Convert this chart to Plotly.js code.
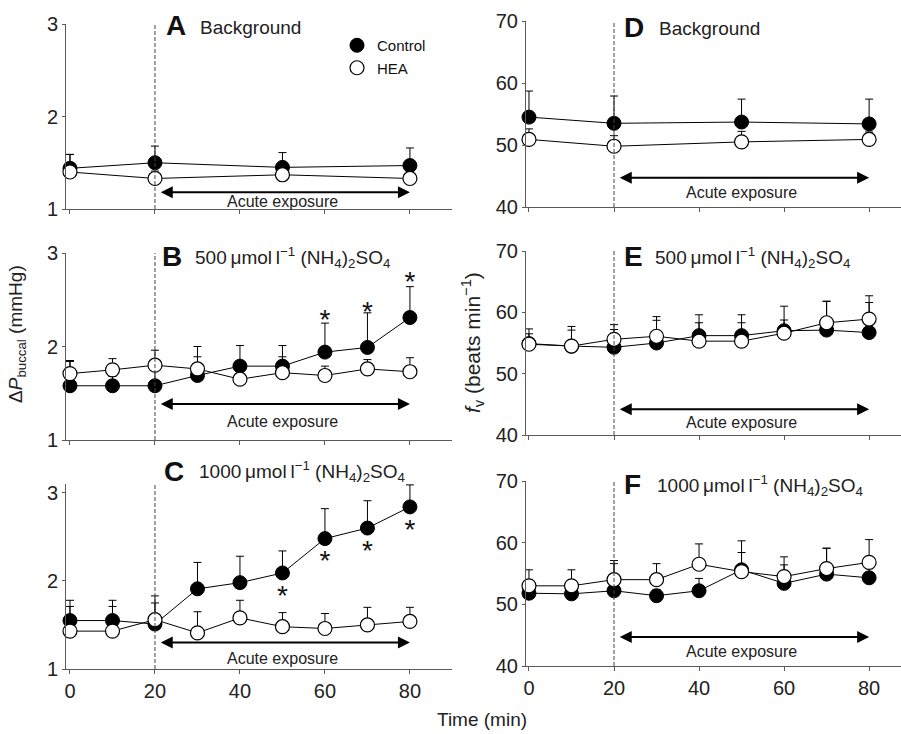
<!DOCTYPE html>
<html>
<head>
<meta charset="utf-8">
<script src="https://cdn.plot.ly/plotly-3.0.1.min.js"></script>
<style>html,body{margin:0;padding:0;background:#fff;}#chart{width:901px;height:734px;}</style>
</head>
<body>
<div id="chart"></div>
<script>
// ---- Data ----
const timeBackground = [0, 20, 50, 80];
const timeExposure = [0, 10, 20, 30, 40, 50, 60, 70, 80];

// Panel A: ΔPbuccal background
const aControl = [1.44, 1.50, 1.45, 1.47];
const aControlErr = [0.15, 0.18, 0.16, 0.19];
const aHEA = [1.40, 1.33, 1.37, 1.33];
const aHEAErr = [0.19, 0.08, 0.06, 0.06];

// Panel B: ΔPbuccal 500 µmol/l
const bControl = [1.58, 1.58, 1.58, 1.69, 1.79, 1.79, 1.94, 1.99, 2.31];
const bControlErr = [0.27, 0.10, 0.20, 0.20, 0.22, 0.22, 0.31, 0.37, 0.33];
const bHEA = [1.71, 1.75, 1.80, 1.76, 1.65, 1.72, 1.69, 1.76, 1.73];
const bHEAErr = [0.13, 0.12, 0.16, 0.24, 0.10, 0.17, 0.10, 0.10, 0.15];
const bStarTimes = [60, 70, 80];
const bStarY = [2.26, 2.35, 2.67];

// Panel C: ΔPbuccal 1000 µmol/l
const cControl = [1.55, 1.55, 1.51, 1.91, 1.98, 2.09, 2.48, 2.60, 2.84];
const cControlErr = [0.23, 0.23, 0.32, 0.30, 0.30, 0.25, 0.34, 0.31, 0.25];
const cHEA = [1.43, 1.43, 1.56, 1.41, 1.58, 1.48, 1.46, 1.50, 1.54];
const cHEAErr = [0.28, 0.28, 0.19, 0.24, 0.20, 0.16, 0.17, 0.20, 0.16];
const cStarTimes = [50, 60, 70, 80];
const cStarY = [1.81, 2.20, 2.32, 2.56];

// Panel D: fV background
const dControl = [54.5, 53.5, 53.7, 53.4];
const dControlErr = [4.2, 4.4, 3.7, 4.0];
const dHEA = [50.9, 49.8, 50.5, 50.9];
const dHEAErr = [1.7, 1.7, 1.7, 1.2];

// Panel E: fV 500 µmol/l
const eControl = [54.9, 54.5, 54.3, 55.0, 56.2, 56.2, 57.0, 57.1, 56.7];
const eControlErr = [2.4, 3.2, 2.9, 4.3, 3.4, 3.4, 4.0, 4.7, 4.9];
const eHEA = [54.8, 54.5, 55.6, 56.1, 55.3, 55.3, 56.6, 58.3, 58.9];
const eHEAErr = [1.7, 2.6, 2.4, 2.6, 3.0, 3.0, 2.15, 3.5, 3.8];

// Panel F: fV 1000 µmol/l
const fControl = [51.8, 51.7, 52.2, 51.4, 52.2, 55.6, 53.4, 54.9, 54.3];
const fControlErr = [1.5, 1.5, 4.4, 1.0, 2.0, 2.8, 3.0, 4.2, 1.5];
const fHEA = [53.0, 53.0, 54.0, 54.0, 56.5, 55.3, 54.5, 55.8, 56.8];
const fHEAErr = [2.6, 2.6, 3.1, 2.6, 3.3, 5.0, 3.2, 3.3, 3.7];

const panelLetters = ['A', 'B', 'C', 'D', 'E', 'F'];
const conc500 = '500\u2009\u03bcmol\u2009l<sup>\u22121</sup> (NH<sub>4</sub>)<sub>2</sub>SO<sub>4</sub>';
const conc1000 = '1000\u2009\u03bcmol\u2009l<sup>\u22121</sup> (NH<sub>4</sub>)<sub>2</sub>SO<sub>4</sub>';
const panelTitles = ['Background', conc500, conc1000, 'Background', conc500, conc1000];
const seriesNames = ['Control', 'HEA'];
const exposureStart = 21, exposureEnd = 80, baselineEnd = 20;

// ---- Layout helpers ----
const W = 901, H = 734;
const FONT = 'Liberation Sans, Arial, Helvetica, sans-serif';
const px = v => v / W;
const py = v => 1 - v / H;

const panels = [
  {x: [66, 452], y: [24, 209], range: [1, 3], ticks: [1, 2, 3], arrowY: 1.18, labelPx: 201, titlePx: 26, xr: [-0.94, 89.9]},
  {x: [66, 452], y: [253, 440], range: [1, 3], ticks: [1, 2, 3], arrowY: 1.385, labelPx: 421, titlePx: 256, xr: [-0.94, 89.9]},
  {x: [66, 452], y: [484, 669], range: [1, 3.1], ticks: [1, 2, 3], arrowY: 1.30, labelPx: 658, titlePx: 471, xr: [-0.94, 89.9]},
  {x: [526, 901], y: [21, 207], range: [40, 70], ticks: [40, 50, 60, 70], arrowY: 44.7, labelPx: 193, titlePx: 27, xr: [-0.7, 87.5]},
  {x: [526, 901], y: [251, 435], range: [40, 70], ticks: [40, 50, 60, 70], arrowY: 44.2, labelPx: 422, titlePx: 256, xr: [-0.7, 87.5]},
  {x: [526, 901], y: [481, 666], range: [40, 70], ticks: [40, 50, 60, 70], arrowY: 44.7, labelPx: 651, titlePx: 484, xr: [-0.7, 87.5]}
];
const letterX = [166, 162, 164, 624, 624, 624];
const titleX = [200, 195, 199, 659, 655, 657];

const panelData = [
  [timeBackground, aControl, aControlErr, aHEA, aHEAErr],
  [timeExposure, bControl, bControlErr, bHEA, bHEAErr],
  [timeExposure, cControl, cControlErr, cHEA, cHEAErr],
  [timeBackground, dControl, dControlErr, dHEA, dHEAErr],
  [timeExposure, eControl, eControlErr, eHEA, eHEAErr],
  [timeExposure, fControl, fControlErr, fHEA, fHEAErr]
];

const traces = [];
const layout = {
  width: W, height: H,
  margin: {l: 0, r: 0, t: 0, b: 0, pad: 0},
  paper_bgcolor: '#fff', plot_bgcolor: 'rgba(0,0,0,0)',
  font: {family: FONT, color: '#222'},
  showlegend: true,
  legend: {x: px(337), y: py(29), xanchor: 'left', yanchor: 'top', bgcolor: 'rgba(0,0,0,0)',
           font: {size: 15, family: FONT, color: '#111'}, tracegroupgap: 0, itemwidth: 30},
  annotations: [],
  shapes: []
};

panels.forEach((p, i) => {
  const n = i + 1;
  const xa = n === 1 ? 'x' : 'x' + n;
  const ya = n === 1 ? 'y' : 'y' + n;
  const xkey = n === 1 ? 'xaxis' : 'xaxis' + n;
  const ykey = n === 1 ? 'yaxis' : 'yaxis' + n;
  const bottom = (i === 2 || i === 5);
  layout[xkey] = {
    domain: [px(p.x[0]), px(p.x[1])], range: p.xr, anchor: ya,
    showline: true, linecolor: '#5a5a5a', linewidth: 1, mirror: false,
    ticks: 'outside', ticklen: 4, tickcolor: '#5a5a5a', tickwidth: 1,
    tickvals: [0, 20, 40, 60, 80], showticklabels: bottom,
    tickfont: {size: 20, family: FONT, color: '#222'},
    showgrid: false, zeroline: false, fixedrange: true
  };
  layout[ykey] = {
    domain: [py(p.y[1]), py(p.y[0])], range: p.range, anchor: xa,
    showline: true, linecolor: '#5a5a5a', linewidth: 1,
    ticks: 'outside', ticklen: 3, tickcolor: '#5a5a5a', tickwidth: 1,
    tickvals: p.ticks, ticktext: p.ticks.map(String),
    tickfont: {size: 20, family: FONT, color: '#222'},
    showgrid: false, zeroline: false, fixedrange: true
  };
  const [t, ctl, ctlErr, hea, heaErr] = panelData[i];
  traces.push({
    x: t, y: ctl, xaxis: xa, yaxis: ya, type: 'scatter', mode: 'lines+markers',
    name: seriesNames[0], showlegend: false, cliponaxis: false,
    line: {color: '#000', width: 1},
    marker: {symbol: 'circle', size: 14, color: '#000', line: {color: '#000', width: 1}},
    error_y: {type: 'data', symmetric: false, array: ctlErr, arrayminus: ctl.map(() => 0), color: '#000', thickness: 1, width: 4}
  });
  traces.push({
    x: t, y: hea, xaxis: xa, yaxis: ya, type: 'scatter', mode: 'lines+markers',
    name: seriesNames[1], showlegend: false, cliponaxis: false,
    line: {color: '#000', width: 1},
    marker: {symbol: 'circle', size: 14, color: '#fff', line: {color: '#000', width: 1.2}},
    error_y: {type: 'data', symmetric: false, array: heaErr, arrayminus: hea.map(() => 0), color: '#000', thickness: 1, width: 4}
  });
  layout.shapes.push({type: 'line', xref: xa, yref: ya + ' domain', x0: baselineEnd, x1: baselineEnd, y0: 0, y1: 1.0,
    line: {color: '#444', width: 1, dash: '4px,2px'}});
  layout.annotations.push({xref: xa, yref: ya, x: exposureEnd, y: p.arrowY, ax: exposureStart, ay: p.arrowY,
    axref: xa, ayref: ya, text: '', showarrow: true, arrowside: 'end+start', arrowhead: 2, arrowsize: 1.2,
    arrowwidth: 2, arrowcolor: '#000', standoff: 0, startstandoff: 0});
  layout.annotations.push({xref: xa, yref: 'paper', x: 50, y: py(p.labelPx), text: 'Acute exposure',
    showarrow: false, xanchor: 'center', yanchor: 'middle', font: {size: 16, family: FONT, color: '#222'}});
  layout.annotations.push({xref: 'paper', yref: 'paper', x: px(letterX[i] - 2), y: py(p.titlePx), text: '<b>' + panelLetters[i] + '</b>',
    showarrow: false, xanchor: 'left', yanchor: 'middle', font: {size: 28, family: FONT, color: '#111'}});
  layout.annotations.push({xref: 'paper', yref: 'paper', x: px(titleX[i] - 2), y: py(p.titlePx + 1), text: panelTitles[i],
    showarrow: false, xanchor: 'left', yanchor: 'middle', font: {size: 19, family: FONT, color: '#222'}});
});

// significance stars
traces.push({x: bStarTimes, y: bStarY, xaxis: 'x2', yaxis: 'y2', type: 'scatter', mode: 'text',
  text: bStarTimes.map(() => '*'), textposition: 'middle center', showlegend: false, cliponaxis: false,
  textfont: {size: 28, family: FONT, color: '#111'}});
traces.push({x: cStarTimes, y: cStarY, xaxis: 'x3', yaxis: 'y3', type: 'scatter', mode: 'text',
  text: cStarTimes.map(() => '*'), textposition: 'middle center', showlegend: false, cliponaxis: false,
  textfont: {size: 28, family: FONT, color: '#111'}});

// legend entries
traces.push({x: [null], y: [null], type: 'scatter', mode: 'markers', name: seriesNames[0], showlegend: true,
  marker: {symbol: 'circle', size: 14, color: '#000', line: {color: '#000', width: 1}}});
traces.push({x: [null], y: [null], type: 'scatter', mode: 'markers', name: seriesNames[1], showlegend: true,
  marker: {symbol: 'circle', size: 14, color: '#fff', line: {color: '#000', width: 1.2}}});

// axis titles
layout.annotations.push({xref: 'paper', yref: 'paper', x: px(17), y: py(334), textangle: -90,
  text: '\u0394<i>P</i><sub>buccal</sub> (mmHg)', showarrow: false, xanchor: 'center', yanchor: 'middle',
  font: {size: 19, family: FONT, color: '#222'}});
layout.annotations.push({xref: 'paper', yref: 'paper', x: px(472), y: py(343), textangle: -90,
  text: '<i>f</i><sub>v</sub> (beats min<sup>\u22121</sup>)', showarrow: false, xanchor: 'center', yanchor: 'middle',
  font: {size: 21, family: FONT, color: '#222'}});
layout.annotations.push({xref: 'paper', yref: 'paper', x: px(482), y: py(719),
  text: 'Time (min)', showarrow: false, xanchor: 'center', yanchor: 'middle',
  font: {size: 19, family: FONT, color: '#222'}});

Plotly.newPlot('chart', traces, layout, {staticPlot: true, displayModeBar: false});
</script>
</body>
</html>
